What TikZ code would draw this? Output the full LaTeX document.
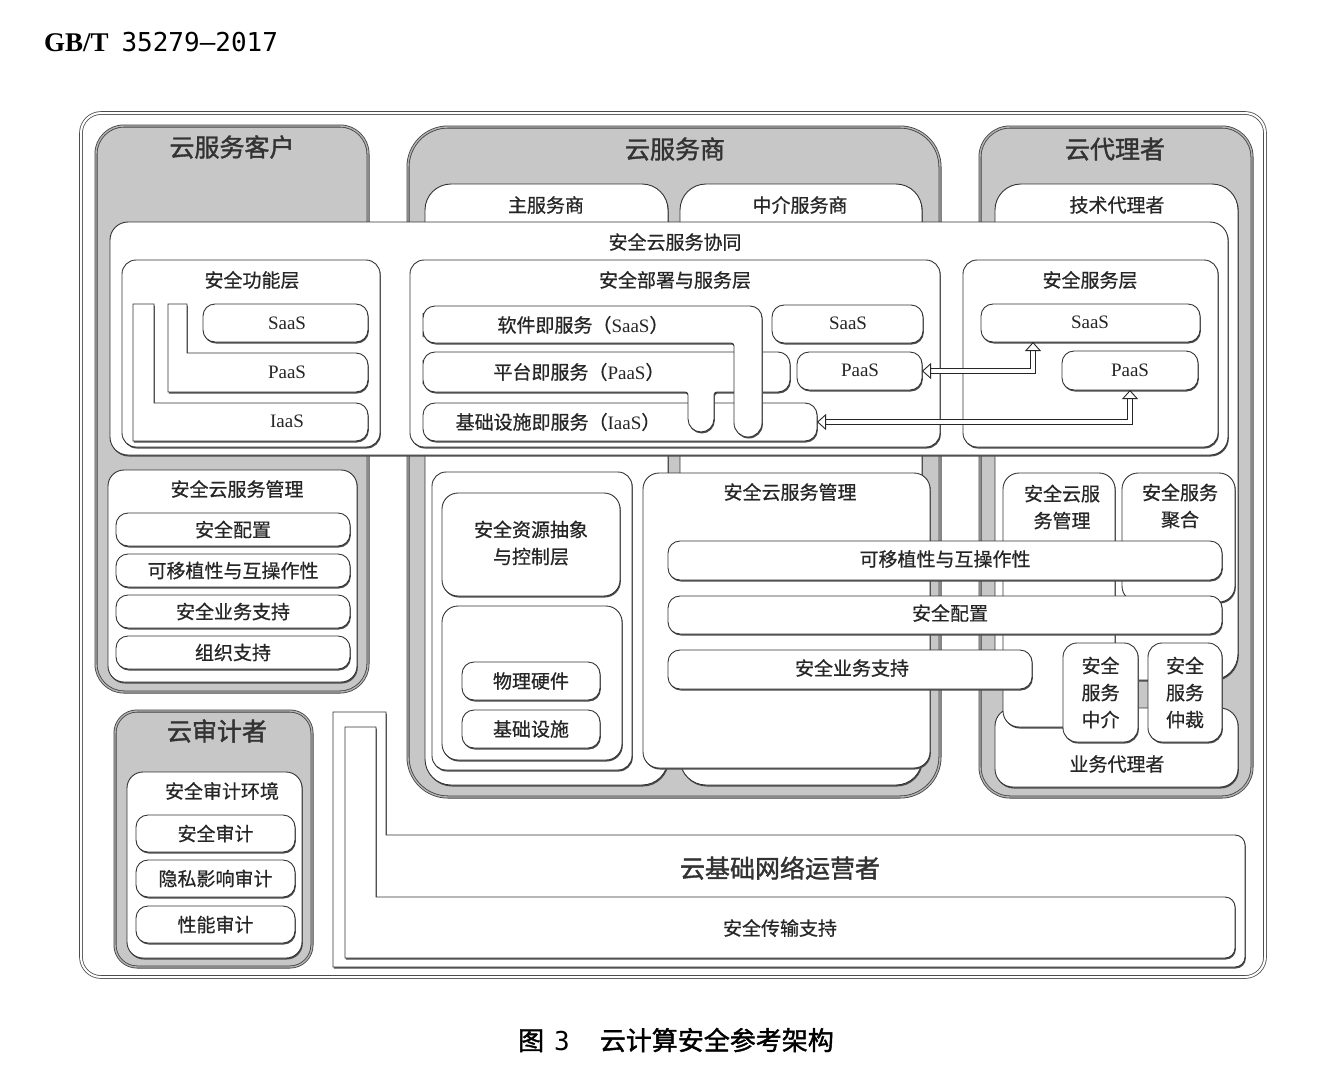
\documentclass[tikz,border=0pt]{standalone}
\usepackage{fontspec}
\setmainfont{Liberation Serif}
\newfontfamily\cjk[FakeBold=0.6]{Noto Sans CJK SC}
\newfontfamily\cjkb[FakeBold=1.5]{Noto Sans CJK SC}
\newfontfamily\monofnt{DejaVu Sans Mono}
\usetikzlibrary{fit,shadows,arrows.meta}
\newcommand\ltn[1]{{\rmfamily #1}}
% white rounded box spanning two corners, with a centred label
\newcommand\wb[7][]{\node[wbox,#1,fit={(#3,#4) (#5,#6)}] (#2) {};
  \node[lbl] (#2L) at (#2.center) {#7};}
\begin{document}
\begin{tikzpicture}[x=1pt,y=-1pt,
  every node/.style={inner sep=0pt,outer sep=0pt},
  lbl/.style={font=\cjk\fontsize{19}{27}\selectfont,text=black!85,align=center},
  ttl/.style={font=\cjkb\fontsize{25}{30}\selectfont,text=black!80},
  latl/.style={font=\rmfamily\fontsize{19}{23}\selectfont,text=black!85},
  frame/.style={draw=black!70,line width=0.8pt,double=white,double distance=2pt,rounded corners=20pt},
  gbox/.style={fill=black!22,draw=black!75,line width=0.8pt,double=black!30,double distance=1.4pt},
  wbox/.style={fill=white,draw=black!80,line width=0.9pt,rounded corners=12pt,
    drop shadow={shadow xshift=0.8pt,shadow yshift=-1.5pt,fill=black!70,opacity=1}},
  conn/.style={draw=black!85,line width=0.9pt,double=white,double distance=4.5pt,
    arrows={Triangle[open,length=9pt,width=16pt]-Triangle[open,length=9pt,width=16pt]}},
]
\fill[white] (0,0) rectangle (1330,1074);
\useasboundingbox (0,0) rectangle (1330,1074);

% header and caption
\node[anchor=west,font=\fontsize{27}{30}\selectfont] (hdr) at (44,42) {\textbf{GB/T}\hspace{13pt}{\monofnt\fontsize{26}{30}\selectfont 35279—2017}};
\node[font=\cjkb\fontsize{26}{30}\selectfont] (cap) at (676,1040) {图\hspace{10pt}{\monofnt 3}\hspace{30pt}云计算安全参考架构};

% outer frame
\node[frame,fit={(81,113) (1265,977)}] (frm) {};

% role groups
\node[gbox,rounded corners=28pt,fit={(96,126) (368,692)}] (cust) {};
\node[ttl] (custT) at (232,147) {云服务客户};
\node[gbox,rounded corners=40pt,fit={(408,127) (940,797)}] (prov) {};
\node[ttl] (provT) at (675,149) {云服务商};
\node[gbox,rounded corners=30pt,fit={(980,127) (1252,797)}] (brok) {};
\node[ttl] (brokT) at (1115,149) {云代理者};
\node[gbox,rounded corners=22pt,fit={(115,711) (312,967)}] (aud) {};
\node[ttl] (audT) at (217,731) {云审计者};

% provider / broker sub-roles
\wb[rounded corners=26pt]{main}{425}{184}{668}{785}{}
\node[lbl] (mainT) at (546,205) {主服务商};
\wb[rounded corners=26pt]{inter}{680}{184}{922}{785}{}
\node[lbl] (interT) at (800,205) {中介服务商};
\wb[rounded corners=26pt]{tech}{995}{184}{1238}{680}{}
\node[lbl] (techT) at (1117,205) {技术代理者};

% collaboration band
\wb[rounded corners=18pt]{collab}{110}{222}{1228}{455}{}
\node[lbl] (collabT) at (675,242) {安全云服务协同};

% security function layer
\wb[rounded corners=14pt]{sfl}{122}{260}{380}{447}{}
\node[lbl] (sflT) at (252,280) {安全功能层};
\draw[wbox,sharp corners] (133,304) -- (154,304) -- (154,403) [rounded corners=12pt] -- (368,403) -- (368,441) [sharp corners] -- (133,441) -- cycle;
\node[latl] (fiaas) at (287,421) {IaaS};
\draw[wbox,sharp corners] (168,304) -- (187,304) -- (187,353) [rounded corners=12pt] -- (368,353) -- (368,392) [sharp corners] -- (168,392) -- cycle;
\node[latl] (fpaas) at (287,372) {PaaS};
\wb{fsaas}{203}{304}{368}{342}{}
\node[latl] (fsaasT) at (287,323) {SaaS};

% deployment and service layer
\wb[rounded corners=14pt]{dsl}{410}{260}{940}{447}{}
\node[lbl] (dslT) at (675,280) {安全部署与服务层};
\wb{piaas}{423}{403}{817}{441}{}
\node[lbl] (piaasT) at (558,422) {基础设施即服务（\ltn{IaaS}）};
\draw[wbox] (423,372) [rounded corners=12pt] -- (423,352) -- (790,352) -- (790,392) [rounded corners=3pt] -- (714,392) [rounded corners=13pt] -- (714,432) -- (688,432) [rounded corners=3pt] -- (688,392) [rounded corners=12pt] -- (423,392) -- cycle;
\node[lbl] (ppaasL) at (579,372) {平台即服务（\ltn{PaaS}）};
\draw[wbox] (423,325) [rounded corners=12pt] -- (423,306) -- (762,306) [rounded corners=14pt] -- (762,437) -- (734,437) [rounded corners=3pt] -- (734,343) [rounded corners=12pt] -- (423,343) -- cycle;
\node[lbl] (psaasL) at (583,325) {软件即服务（\ltn{SaaS}）};
\wb{psaas}{772}{305}{923}{343}{}
\node[latl] (psaasT) at (848,323) {SaaS};
\wb{ppaas}{797}{352}{922}{390}{}
\node[latl] (ppaasT) at (860,370) {PaaS};

% broker service layer
\wb[rounded corners=14pt]{bsl}{963}{260}{1218}{447}{}
\node[lbl] (bslT) at (1090,280) {安全服务层};
\wb{bsaas}{981}{304}{1200}{342}{}
\node[latl] (bsaasT) at (1090,322) {SaaS};
\wb{bpaas}{1062}{351}{1198}{390}{}
\node[latl] (bpaasT) at (1130,370) {PaaS};

% service links
\coordinate (u1) at (1033,342);
\draw[conn] (ppaas.east) -| (u1);
\draw[conn] (piaas.east) -| (bpaas.south);

% customer management
\wb[rounded corners=16pt]{cmg}{108}{470}{357}{682}{}
\node[lbl] (cmgT) at (237,489) {安全云服务管理};
\wb{cm1}{116}{513}{350}{546}{安全配置}
\wb{cm2}{116}{554}{350}{587}{可移植性与互操作性}
\wb{cm3}{116}{595}{350}{628}{安全业务支持}
\wb{cm4}{116}{636}{350}{669}{组织支持}

% provider resources
\wb[rounded corners=14pt]{pres}{432}{472}{632}{770}{}
\wb[rounded corners=16pt]{pabs}{442}{493}{620}{596}{}
\node[lbl] (pabsT) at (531,543) {安全资源抽象\\与控制层};
\wb[rounded corners=16pt]{pphy}{442}{606}{622}{760}{}
\wb{phw}{462}{662}{600}{700}{物理硬件}
\wb{pinf}{462}{710}{600}{748}{基础设施}

% provider management
\wb[rounded corners=16pt]{pmg}{643}{473}{930}{768}{}
\node[lbl] (pmgT) at (790,492) {安全云服务管理};

% broker business part
\wb[rounded corners=18pt]{bus}{995}{708}{1238}{787}{}
\node[lbl] (busT) at (1117,764) {业务代理者};
\wb[rounded corners=16pt]{bmg}{1003}{473}{1115}{727}{}
\node[lbl] (bmgT) at (1062,507) {安全云服\\务管理};
\wb[rounded corners=16pt]{bagg}{1122}{473}{1235}{602}{}
\node[lbl] (baggT) at (1180,506) {安全服务\\聚合};

% shared management bars
\wb{bar1}{668}{541}{1222}{580}{}
\node[lbl] (bar1T) at (945,559) {可移植性与互操作性};
\wb{bar2}{668}{596}{1222}{634}{}
\node[lbl] (bar2T) at (950,613) {安全配置};
\wb{bar3}{668}{650}{1032}{689}{}
\node[lbl] (bar3T) at (852,668) {安全业务支持};

% broker intermediation / arbitrage
\wb[rounded corners=14pt]{bint}{1063}{643}{1138}{742}{安全\\服务\\中介}
\wb[rounded corners=14pt]{barb}{1148}{643}{1222}{742}{安全\\服务\\仲裁}

% audit environment
\wb[rounded corners=16pt]{aenv}{127}{772}{302}{958}{}
\node[lbl] (aenvT) at (222,791) {安全审计环境};
\wb{a1}{136}{815}{295}{852}{安全审计}
\wb{a2}{136}{860}{295}{897}{隐私影响审计}
\wb{a3}{136}{906}{295}{943}{性能审计}

% network operator
\draw[wbox,sharp corners] (333,712) -- (386,712) -- (386,835) [rounded corners=10pt] -- (1245,835) -- (1245,967) [sharp corners] -- (333,967) -- cycle;
\node[ttl] (netT) at (780,868) {云基础网络运营者};
\draw[wbox,sharp corners] (345,727) -- (376,727) -- (376,897) [rounded corners=10pt] -- (1235,897) -- (1235,958) [sharp corners] -- (345,958) -- cycle;
\node[lbl] (transT) at (780,928) {安全传输支持};
\end{tikzpicture}
\end{document}
